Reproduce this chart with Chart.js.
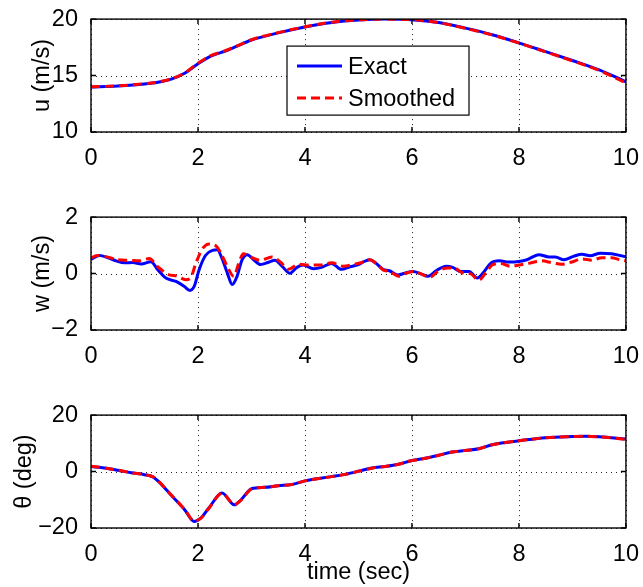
<!DOCTYPE html>
<html><head><meta charset="utf-8">
<script src="https://cdn.jsdelivr.net/npm/chart.js@4.4.1/dist/chart.umd.min.js"></script>
<style>
html,body{margin:0;padding:0;background:#fff;}
#wrap{position:relative;width:643px;height:587px;overflow:hidden;background:#fff;}
canvas{position:absolute;left:0;}
</style></head><body>
<div id="wrap">
<canvas id="c1" width="643" height="198" style="top:0px"></canvas>
<canvas id="c2" width="643" height="198" style="top:198px"></canvas>
<canvas id="c3" width="643" height="191" style="top:396px"></canvas>
</div>
<script>
// ---------- data ----------
const seriesNames = ['Exact', 'Smoothed'];
const xTicks = [0, 2, 4, 6, 8, 10];
const uTicks = [10, 15, 20];
const wTicks = [-2, 0, 2];
const thTicks = [-20, 0, 20];

const uT = [0,0.5,1,1.25,1.5,1.75,2,2.25,2.5,2.75,3,3.5,4,4.5,5,5.5,6,6.5,7,7.5,8,8.5,9,9.5,10];
const uExact = [13.98,14.08,14.25,14.4,14.68,15.2,16.05,16.75,17.15,17.65,18.15,18.78,19.3,19.7,19.92,20.0,19.95,19.7,19.2,18.62,17.9,17.12,16.33,15.5,14.45];
const uSmooth = [14.0,14.09,14.27,14.42,14.7,15.22,16.1,16.78,17.18,17.66,18.17,18.8,19.32,19.72,19.93,20.0,19.95,19.68,19.18,18.6,17.88,17.1,16.3,15.45,14.35];

const wExactT = [0,0.16,0.32,0.47,0.63,0.78,0.94,1.12,1.25,1.40,1.59,1.74,1.85,1.93,2.02,2.14,2.27,2.36,2.45,2.55,2.64,2.73,2.82,2.92,3.04,3.17,3.32,3.44,3.57,3.72,3.85,3.97,4.16,4.31,4.50,4.68,4.84,5.02,5.09,5.21,5.33,5.46,5.58,5.74,5.89,6.02,6.17,6.30,6.45,6.64,6.76,6.91,7.07,7.22,7.35,7.47,7.63,7.81,8.00,8.15,8.37,8.56,8.68,8.84,9.02,9.18,9.33,9.52,9.73,9.89,10.0];
const wExact = [0.50,0.64,0.56,0.45,0.38,0.39,0.34,0.42,0.13,-0.16,-0.28,-0.45,-0.60,-0.45,0.13,0.64,0.82,0.84,0.53,0.01,-0.39,-0.10,0.47,0.67,0.49,0.32,0.40,0.47,0.26,0.01,0.22,0.30,0.17,0.22,0.36,0.15,0.24,0.33,0.41,0.49,0.36,0.15,0.10,-0.05,0.03,0.07,-0.01,-0.10,0.10,0.26,0.22,0.07,0.07,-0.16,0.07,0.36,0.45,0.41,0.43,0.49,0.67,0.59,0.59,0.49,0.61,0.68,0.63,0.72,0.70,0.64,0.59];
const wSmoothT = [0,0.13,0.3,0.5,0.72,0.9,1.09,1.25,1.43,1.62,1.77,1.86,1.96,2.08,2.21,2.33,2.42,2.55,2.67,2.76,2.85,2.98,3.17,3.38,3.54,3.69,3.88,4.06,4.28,4.50,4.71,4.93,5.09,5.21,5.33,5.46,5.58,5.77,5.89,6.02,6.17,6.33,6.48,6.67,6.79,6.94,7.10,7.25,7.38,7.50,7.66,7.84,8.00,8.18,8.43,8.62,8.80,8.99,9.18,9.36,9.55,9.73,9.89,10.0];
const wSmooth = [0.56,0.64,0.59,0.49,0.47,0.45,0.53,0.24,-0.02,-0.10,-0.22,-0.16,0.36,0.87,1.05,0.99,0.76,0.24,-0.10,0.36,0.70,0.59,0.47,0.59,0.41,0.15,0.33,0.30,0.30,0.38,0.26,0.33,0.41,0.49,0.36,0.13,0.07,-0.10,0.01,0.07,-0.01,-0.14,0.07,0.20,0.20,0.03,-0.01,-0.24,0.03,0.30,0.36,0.26,0.30,0.36,0.45,0.38,0.33,0.41,0.52,0.47,0.56,0.56,0.49,0.45];

const thT = [0,0.25,0.5,0.75,1,1.15,1.25,1.5,1.75,1.93,2.05,2.2,2.45,2.68,2.8,3,3.25,3.5,3.75,4,4.5,4.75,5,5.25,5.5,5.75,6,6.25,6.5,6.75,7,7.25,7.5,7.75,8,8.5,9,9.25,9.5,10];
const thExact = [1.8,1.25,0.45,-0.45,-1.1,-1.8,-3.3,-8.4,-13.5,-17.7,-16.5,-13.0,-7.6,-11.8,-10.1,-6.1,-5.6,-5.0,-4.6,-3.3,-1.8,-1.0,0.1,1.25,1.8,2.6,3.9,4.7,5.8,6.9,7.5,8.1,9.5,10.3,10.9,12.0,12.4,12.5,12.3,11.5];
const thSmooth = [1.9,1.3,0.5,-0.4,-1.1,-1.8,-3.2,-8.3,-13.4,-17.5,-16.6,-13.1,-7.7,-11.7,-10.2,-6.2,-5.6,-5.0,-4.6,-3.3,-1.8,-1.0,0.1,1.2,1.8,2.6,3.9,4.7,5.8,6.9,7.5,8.1,9.5,10.3,10.9,12.0,12.4,12.5,12.3,11.4];

// ---------- helpers ----------
const FONT = "'Liberation Sans', Arial, Helvetica, sans-serif";
const FS = 23.5;
const pts = (t, v) => t.map((x, i) => ({x: x, y: v[i]}));
const fmt = v => String(v).replace('-', '\u2212');

const framePlugin = {
  id: 'frame',
  beforeDatasetsDraw(chart) {
    const {ctx, chartArea: a, scales: {x, y}} = chart;
    ctx.save();
    ctx.strokeStyle = '#222';
    ctx.lineWidth = 1;
    ctx.setLineDash([1, 4]);
    x.ticks.forEach(t => {
      const px = Math.round(x.getPixelForValue(t.value)) + 0.5;
      ctx.beginPath(); ctx.moveTo(px, a.top); ctx.lineTo(px, a.bottom); ctx.stroke();
    });
    y.ticks.forEach(t => {
      const py = Math.round(y.getPixelForValue(t.value)) + 0.5;
      ctx.beginPath(); ctx.moveTo(a.left, py); ctx.lineTo(a.right, py); ctx.stroke();
    });
    ctx.restore();
  },
  afterDatasetsDraw(chart, args, opts) {
    const {ctx, chartArea: a, scales: {x, y}} = chart;
    ctx.save();
    ctx.setLineDash([]);
    ctx.strokeStyle = '#000';
    ctx.lineWidth = 1.4;
    const TL = 5;
    x.ticks.forEach(t => {
      const px = x.getPixelForValue(t.value);
      ctx.beginPath(); ctx.moveTo(px, a.bottom); ctx.lineTo(px, a.bottom - TL);
      ctx.moveTo(px, a.top); ctx.lineTo(px, a.top + TL); ctx.stroke();
    });
    y.ticks.forEach(t => {
      const py = y.getPixelForValue(t.value);
      ctx.beginPath(); ctx.moveTo(a.left, py); ctx.lineTo(a.left + TL, py);
      ctx.moveTo(a.right, py); ctx.lineTo(a.right - TL, py); ctx.stroke();
    });
    ctx.strokeRect(a.left, a.top, a.right - a.left, a.bottom - a.top);
    if (opts && opts.legend) {
      const L = a.left + 196, T = a.top + 27, W = 182, H = 69;
      ctx.fillStyle = '#fff';
      ctx.fillRect(L, T, W, H);
      ctx.lineWidth = 1.2;
      ctx.strokeRect(L, T, W, H);
      const ds = chart.data.datasets;
      const rows = [ds.find(d => d.label === seriesNames[0]), ds.find(d => d.label === seriesNames[1])];
      rows.forEach((d, i) => {
        const yy = T + 20 + i * 32;
        ctx.beginPath();
        ctx.strokeStyle = d.borderColor;
        ctx.lineWidth = d.borderWidth;
        ctx.setLineDash(d.borderDash || []);
        ctx.moveTo(L + 10, yy); ctx.lineTo(L + 55, yy); ctx.stroke();
        ctx.setLineDash([]);
        ctx.fillStyle = '#000';
        ctx.font = FS + 'px ' + FONT;
        ctx.textBaseline = 'middle';
        ctx.textAlign = 'left';
        ctx.fillText(d.label, L + 61, yy + 1);
      });
    }
    ctx.restore();
  }
};

function makeChart(id, exactPts, smoothPts, yTicks, yTitle, yTitlePad, showXTitle, showLegend) {
  const cv = document.getElementById(id);
  const Hc = cv.height;
  return new Chart(cv, {
    type: 'line',
    data: {
      datasets: [
        {label: seriesNames[0], data: exactPts, borderColor: '#0000ff', borderWidth: 3, pointRadius: 0,
         fill: false, cubicInterpolationMode: 'monotone', order: 1},
        {label: seriesNames[1], data: smoothPts, borderColor: '#ff0000', borderWidth: 3, borderDash: [9, 5],
         pointRadius: 0, fill: false, cubicInterpolationMode: 'monotone', order: 0}
      ]
    },
    options: {
      responsive: false,
      devicePixelRatio: 1,
      animation: false,
      events: [],
      layout: {padding: {top: 16, right: 14, left: 0, bottom: 0}},
      plugins: {legend: {display: false}, tooltip: {enabled: false}, frame: {legend: showLegend}},
      scales: {
        x: {
          type: 'linear', min: xTicks[0], max: xTicks[xTicks.length - 1],
          afterBuildTicks: s => { s.ticks = xTicks.map(v => ({value: v})); },
          ticks: {color: '#000', font: {family: FONT, size: FS}, padding: 4, maxRotation: 0, autoSkip: false,
                  callback: v => fmt(v)},
          grid: {display: false}, border: {display: false},
          title: {display: showXTitle, text: 'time (sec)', color: '#000', font: {family: FONT, size: FS},
                  padding: {top: 0, bottom: 0}},
          afterFit: s => { s.height = Hc - 132; }
        },
        y: {
          type: 'linear', min: yTicks[0], max: yTicks[yTicks.length - 1],
          afterBuildTicks: s => { s.ticks = yTicks.map(v => ({value: v})); },
          ticks: {color: '#000', font: {family: FONT, size: FS}, padding: 5, callback: v => fmt(v)},
          grid: {display: false}, border: {display: false},
          title: {display: true, text: yTitle, color: '#000', font: {family: FONT, size: FS},
                  padding: {top: yTitlePad, bottom: 0}},
          afterFit: s => { s.width = 91; }
        }
      }
    },
    plugins: [framePlugin]
  });
}

makeChart('c1', pts(uT, uExact), pts(uT, uSmooth), uTicks, 'u (m/s)', 28, false, true);
makeChart('c2', pts(wExactT, wExact), pts(wSmoothT, wSmooth), wTicks, 'w (m/s)', 28, false, false);
makeChart('c3', pts(thT, thExact), pts(thT, thSmooth), thTicks, '\u03B8 (deg)', 10, true, false);
</script>
</body></html>
